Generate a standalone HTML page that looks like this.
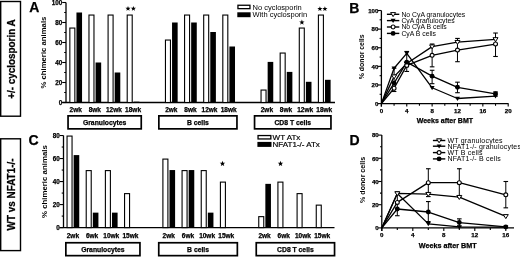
<!DOCTYPE html>
<html><head><meta charset="utf-8"><style>
html,body{margin:0;padding:0;background:#fff;width:520px;height:257px;overflow:hidden;}
svg{display:block;will-change:transform;}
text{font-family:"Liberation Sans", sans-serif;fill:#000;}
</style></head><body>
<svg width="520" height="257" viewBox="0 0 520 257">
<rect x="0" y="0" width="520" height="257" fill="#fff"/>
<rect x="0.70" y="1.50" width="19.80" height="114.70" fill="none" stroke="#000" stroke-width="1.4"/>
<text transform="translate(14.9 59.05) rotate(-90) scale(0.925 1)" x="0" y="0" font-size="10.7" font-weight="bold" text-anchor="middle" stroke="#000" stroke-width="0.25">+/- cyclosporin A</text>
<rect x="0.70" y="138.80" width="19.80" height="111.80" fill="none" stroke="#000" stroke-width="1.4"/>
<text transform="translate(14.9 194.45) rotate(-90) scale(0.918 1)" x="0" y="0" font-size="10.8" font-weight="bold" text-anchor="middle" stroke="#000" stroke-width="0.25">WT vs NFAT1-/-</text>
<text x="29.20" y="12.30" font-size="14.0" font-weight="bold" stroke="#000" stroke-width="0.25" text-anchor="start">A</text>
<text x="28.60" y="144.60" font-size="14.0" font-weight="bold" stroke="#000" stroke-width="0.25" text-anchor="start">C</text>
<text x="349.30" y="12.70" font-size="14.0" font-weight="bold" stroke="#000" stroke-width="0.25" text-anchor="start">B</text>
<text x="349.50" y="144.50" font-size="14.0" font-weight="bold" stroke="#000" stroke-width="0.25" text-anchor="start">D</text>
<g stroke="#000" fill="#000">
<line x1="66.00" y1="2.50" x2="66.00" y2="102.50" stroke-width="1.3"/>
<line x1="62.20" y1="102.50" x2="66.00" y2="102.50" stroke-width="1.1"/>
<text x="62.30" y="104.80" font-size="6.3" font-weight="bold" stroke="#000" stroke-width="0.25" text-anchor="end">0</text>
<line x1="64.20" y1="92.50" x2="66.00" y2="92.50" stroke-width="1.1"/>
<line x1="62.20" y1="82.50" x2="66.00" y2="82.50" stroke-width="1.1"/>
<text x="62.30" y="84.80" font-size="6.3" font-weight="bold" stroke="#000" stroke-width="0.25" text-anchor="end">20</text>
<line x1="64.20" y1="72.50" x2="66.00" y2="72.50" stroke-width="1.1"/>
<line x1="62.20" y1="62.50" x2="66.00" y2="62.50" stroke-width="1.1"/>
<text x="62.30" y="64.80" font-size="6.3" font-weight="bold" stroke="#000" stroke-width="0.25" text-anchor="end">40</text>
<line x1="64.20" y1="52.50" x2="66.00" y2="52.50" stroke-width="1.1"/>
<line x1="62.20" y1="42.50" x2="66.00" y2="42.50" stroke-width="1.1"/>
<text x="62.30" y="44.80" font-size="6.3" font-weight="bold" stroke="#000" stroke-width="0.25" text-anchor="end">60</text>
<line x1="64.20" y1="32.50" x2="66.00" y2="32.50" stroke-width="1.1"/>
<line x1="62.20" y1="22.50" x2="66.00" y2="22.50" stroke-width="1.1"/>
<text x="62.30" y="24.80" font-size="6.3" font-weight="bold" stroke="#000" stroke-width="0.25" text-anchor="end">80</text>
<line x1="64.20" y1="12.50" x2="66.00" y2="12.50" stroke-width="1.1"/>
<line x1="62.20" y1="2.50" x2="66.00" y2="2.50" stroke-width="1.1"/>
<text x="62.30" y="4.80" font-size="6.3" font-weight="bold" stroke="#000" stroke-width="0.25" text-anchor="end">100</text>
<line x1="62.20" y1="102.50" x2="335.00" y2="102.50" stroke-width="1.3"/>
<rect x="76.45" y="12.50" width="5.60" height="90.00" fill="#000" stroke="none"/>
<rect x="69.85" y="28.05" width="5.00" height="74.45" fill="#fff" stroke="#000" stroke-width="1.1"/>
<rect x="95.57" y="62.50" width="5.60" height="40.00" fill="#000" stroke="none"/>
<rect x="88.97" y="15.05" width="5.00" height="87.45" fill="#fff" stroke="#000" stroke-width="1.1"/>
<rect x="114.69" y="72.50" width="5.60" height="30.00" fill="#000" stroke="none"/>
<rect x="108.09" y="15.05" width="5.00" height="87.45" fill="#fff" stroke="#000" stroke-width="1.1"/>
<rect x="133.81" y="101.70" width="5.60" height="0.80" fill="#000" stroke="none"/>
<rect x="127.21" y="15.05" width="5.00" height="87.45" fill="#fff" stroke="#000" stroke-width="1.1"/>
<rect x="172.05" y="22.50" width="5.60" height="80.00" fill="#000" stroke="none"/>
<rect x="165.45" y="40.05" width="5.00" height="62.45" fill="#fff" stroke="#000" stroke-width="1.1"/>
<rect x="191.17" y="22.50" width="5.60" height="80.00" fill="#000" stroke="none"/>
<rect x="184.57" y="15.05" width="5.00" height="87.45" fill="#fff" stroke="#000" stroke-width="1.1"/>
<rect x="210.29" y="32.00" width="5.60" height="70.50" fill="#000" stroke="none"/>
<rect x="203.69" y="15.05" width="5.00" height="87.45" fill="#fff" stroke="#000" stroke-width="1.1"/>
<rect x="229.41" y="46.50" width="5.60" height="56.00" fill="#000" stroke="none"/>
<rect x="222.81" y="15.05" width="5.00" height="87.45" fill="#fff" stroke="#000" stroke-width="1.1"/>
<rect x="267.65" y="61.90" width="5.60" height="40.60" fill="#000" stroke="none"/>
<rect x="261.05" y="90.05" width="5.00" height="12.45" fill="#fff" stroke="#000" stroke-width="1.1"/>
<rect x="286.77" y="71.90" width="5.60" height="30.60" fill="#000" stroke="none"/>
<rect x="280.17" y="53.05" width="5.00" height="49.45" fill="#fff" stroke="#000" stroke-width="1.1"/>
<rect x="305.89" y="81.80" width="5.60" height="20.70" fill="#000" stroke="none"/>
<rect x="299.29" y="28.05" width="5.00" height="74.45" fill="#fff" stroke="#000" stroke-width="1.1"/>
<rect x="325.01" y="79.80" width="5.60" height="22.70" fill="#000" stroke="none"/>
<rect x="318.41" y="15.05" width="5.00" height="87.45" fill="#fff" stroke="#000" stroke-width="1.1"/>
<text x="75.70" y="111.80" font-size="6.5" font-weight="bold" stroke="#000" stroke-width="0.25" text-anchor="middle">2wk</text>
<text x="94.82" y="111.80" font-size="6.5" font-weight="bold" stroke="#000" stroke-width="0.25" text-anchor="middle">8wk</text>
<text x="113.94" y="111.80" font-size="6.5" font-weight="bold" stroke="#000" stroke-width="0.25" text-anchor="middle">12wk</text>
<text x="133.06" y="111.80" font-size="6.5" font-weight="bold" stroke="#000" stroke-width="0.25" text-anchor="middle">18wk</text>
<text x="171.30" y="111.80" font-size="6.5" font-weight="bold" stroke="#000" stroke-width="0.25" text-anchor="middle">2wk</text>
<text x="190.42" y="111.80" font-size="6.5" font-weight="bold" stroke="#000" stroke-width="0.25" text-anchor="middle">8wk</text>
<text x="209.54" y="111.80" font-size="6.5" font-weight="bold" stroke="#000" stroke-width="0.25" text-anchor="middle">12wk</text>
<text x="228.66" y="111.80" font-size="6.5" font-weight="bold" stroke="#000" stroke-width="0.25" text-anchor="middle">18wk</text>
<text x="266.90" y="111.80" font-size="6.5" font-weight="bold" stroke="#000" stroke-width="0.25" text-anchor="middle">2wk</text>
<text x="286.02" y="111.80" font-size="6.5" font-weight="bold" stroke="#000" stroke-width="0.25" text-anchor="middle">8wk</text>
<text x="305.14" y="111.80" font-size="6.5" font-weight="bold" stroke="#000" stroke-width="0.25" text-anchor="middle">12wk</text>
<text x="324.26" y="111.80" font-size="6.5" font-weight="bold" stroke="#000" stroke-width="0.25" text-anchor="middle">18wk</text>
<rect x="68.05" y="115.85" width="73.20" height="13.00" fill="none" stroke="#000" stroke-width="1.7"/>
<text x="104.65" y="124.90" font-size="6.8" font-weight="bold" stroke="#000" stroke-width="0.25" text-anchor="middle">Granulocytes</text>
<rect x="158.85" y="115.85" width="78.10" height="13.00" fill="none" stroke="#000" stroke-width="1.7"/>
<text x="197.90" y="124.90" font-size="6.8" font-weight="bold" stroke="#000" stroke-width="0.25" text-anchor="middle">B cells</text>
<rect x="254.55" y="115.85" width="76.40" height="13.00" fill="none" stroke="#000" stroke-width="1.7"/>
<text x="292.75" y="124.90" font-size="6.8" font-weight="bold" stroke="#000" stroke-width="0.25" text-anchor="middle">CD8 T cells</text>
<text x="46.20" y="52.60" font-size="7.75" font-weight="bold" stroke="none" text-anchor="middle" transform="rotate(-90 46.20 52.60)">% chimeric animals</text>
<rect x="237.95" y="5.25" width="12.00" height="3.40" fill="#fff" stroke="#000" stroke-width="1.3"/>
<rect x="237.30" y="12.30" width="13.30" height="4.90" fill="#000" stroke="none"/>
<text x="252.60" y="9.60" font-size="7.5" stroke="none" text-anchor="start">No cyclosporin</text>
<text x="252.60" y="17.00" font-size="7.5" stroke="none" text-anchor="start">With cyclosporin</text>
<polygon points="128.00,5.90 128.67,7.68 130.57,7.77 129.08,8.95 129.59,10.78 128.00,9.73 126.41,10.78 126.92,8.95 125.43,7.77 127.33,7.68" fill="#000" stroke="none"/>
<polygon points="133.40,5.90 134.07,7.68 135.97,7.77 134.48,8.95 134.99,10.78 133.40,9.73 131.81,10.78 132.32,8.95 130.83,7.77 132.73,7.68" fill="#000" stroke="none"/>
<polygon points="301.90,19.60 302.59,21.45 304.56,21.53 303.02,22.76 303.55,24.67 301.90,23.58 300.25,24.67 300.78,22.76 299.24,21.53 301.21,21.45" fill="#000" stroke="none"/>
<polygon points="319.90,6.20 320.57,7.98 322.47,8.07 320.98,9.25 321.49,11.08 319.90,10.03 318.31,11.08 318.82,9.25 317.33,8.07 319.23,7.98" fill="#000" stroke="none"/>
<polygon points="324.90,6.20 325.57,7.98 327.47,8.07 325.98,9.25 326.49,11.08 324.90,10.03 323.31,11.08 323.82,9.25 322.33,8.07 324.23,7.98" fill="#000" stroke="none"/>
<line x1="63.50" y1="135.52" x2="63.50" y2="227.60" stroke-width="1.3"/>
<line x1="59.70" y1="227.60" x2="63.50" y2="227.60" stroke-width="1.1"/>
<text x="59.80" y="229.90" font-size="6.3" font-weight="bold" stroke="#000" stroke-width="0.25" text-anchor="end">0</text>
<line x1="61.70" y1="216.09" x2="63.50" y2="216.09" stroke-width="1.1"/>
<line x1="59.70" y1="204.58" x2="63.50" y2="204.58" stroke-width="1.1"/>
<text x="59.80" y="206.88" font-size="6.3" font-weight="bold" stroke="#000" stroke-width="0.25" text-anchor="end">20</text>
<line x1="61.70" y1="193.07" x2="63.50" y2="193.07" stroke-width="1.1"/>
<line x1="59.70" y1="181.56" x2="63.50" y2="181.56" stroke-width="1.1"/>
<text x="59.80" y="183.86" font-size="6.3" font-weight="bold" stroke="#000" stroke-width="0.25" text-anchor="end">40</text>
<line x1="61.70" y1="170.05" x2="63.50" y2="170.05" stroke-width="1.1"/>
<line x1="59.70" y1="158.54" x2="63.50" y2="158.54" stroke-width="1.1"/>
<text x="59.80" y="160.84" font-size="6.3" font-weight="bold" stroke="#000" stroke-width="0.25" text-anchor="end">60</text>
<line x1="61.70" y1="147.03" x2="63.50" y2="147.03" stroke-width="1.1"/>
<line x1="59.70" y1="135.52" x2="63.50" y2="135.52" stroke-width="1.1"/>
<text x="59.80" y="137.82" font-size="6.3" font-weight="bold" stroke="#000" stroke-width="0.25" text-anchor="end">80</text>
<line x1="59.70" y1="227.60" x2="334.50" y2="227.60" stroke-width="1.3"/>
<rect x="73.65" y="155.09" width="5.60" height="72.51" fill="#000" stroke="none"/>
<rect x="67.05" y="136.07" width="5.00" height="91.53" fill="#fff" stroke="#000" stroke-width="1.1"/>
<rect x="92.82" y="212.64" width="5.60" height="14.96" fill="#000" stroke="none"/>
<rect x="86.22" y="170.60" width="5.00" height="57.00" fill="#fff" stroke="#000" stroke-width="1.1"/>
<rect x="111.99" y="212.64" width="5.60" height="14.96" fill="#000" stroke="none"/>
<rect x="105.39" y="170.60" width="5.00" height="57.00" fill="#fff" stroke="#000" stroke-width="1.1"/>
<rect x="124.56" y="193.62" width="5.00" height="33.98" fill="#fff" stroke="#000" stroke-width="1.1"/>
<rect x="169.50" y="170.05" width="5.60" height="57.55" fill="#000" stroke="none"/>
<rect x="162.90" y="159.09" width="5.00" height="68.51" fill="#fff" stroke="#000" stroke-width="1.1"/>
<rect x="188.67" y="170.05" width="5.60" height="57.55" fill="#000" stroke="none"/>
<rect x="182.07" y="170.60" width="5.00" height="57.00" fill="#fff" stroke="#000" stroke-width="1.1"/>
<rect x="207.84" y="212.64" width="5.60" height="14.96" fill="#000" stroke="none"/>
<rect x="201.24" y="170.60" width="5.00" height="57.00" fill="#fff" stroke="#000" stroke-width="1.1"/>
<rect x="220.41" y="182.11" width="5.00" height="45.49" fill="#fff" stroke="#000" stroke-width="1.1"/>
<rect x="265.35" y="183.86" width="5.60" height="43.74" fill="#000" stroke="none"/>
<rect x="258.75" y="216.64" width="5.00" height="10.96" fill="#fff" stroke="#000" stroke-width="1.1"/>
<rect x="277.92" y="182.11" width="5.00" height="45.49" fill="#fff" stroke="#000" stroke-width="1.1"/>
<rect x="297.09" y="193.62" width="5.00" height="33.98" fill="#fff" stroke="#000" stroke-width="1.1"/>
<rect x="316.26" y="205.13" width="5.00" height="22.47" fill="#fff" stroke="#000" stroke-width="1.1"/>
<text x="72.90" y="237.50" font-size="6.5" font-weight="bold" stroke="#000" stroke-width="0.25" text-anchor="middle">2wk</text>
<text x="92.07" y="237.50" font-size="6.5" font-weight="bold" stroke="#000" stroke-width="0.25" text-anchor="middle">6wk</text>
<text x="111.24" y="237.50" font-size="6.5" font-weight="bold" stroke="#000" stroke-width="0.25" text-anchor="middle">10wk</text>
<text x="130.41" y="237.50" font-size="6.5" font-weight="bold" stroke="#000" stroke-width="0.25" text-anchor="middle">15wk</text>
<text x="168.75" y="237.50" font-size="6.5" font-weight="bold" stroke="#000" stroke-width="0.25" text-anchor="middle">2wk</text>
<text x="187.92" y="237.50" font-size="6.5" font-weight="bold" stroke="#000" stroke-width="0.25" text-anchor="middle">6wk</text>
<text x="207.09" y="237.50" font-size="6.5" font-weight="bold" stroke="#000" stroke-width="0.25" text-anchor="middle">10wk</text>
<text x="226.26" y="237.50" font-size="6.5" font-weight="bold" stroke="#000" stroke-width="0.25" text-anchor="middle">15wk</text>
<text x="264.60" y="237.50" font-size="6.5" font-weight="bold" stroke="#000" stroke-width="0.25" text-anchor="middle">2wk</text>
<text x="283.77" y="237.50" font-size="6.5" font-weight="bold" stroke="#000" stroke-width="0.25" text-anchor="middle">6wk</text>
<text x="302.94" y="237.50" font-size="6.5" font-weight="bold" stroke="#000" stroke-width="0.25" text-anchor="middle">10wk</text>
<text x="322.11" y="237.50" font-size="6.5" font-weight="bold" stroke="#000" stroke-width="0.25" text-anchor="middle">15wk</text>
<rect x="65.85" y="242.75" width="74.10" height="12.90" fill="none" stroke="#000" stroke-width="1.7"/>
<text x="102.90" y="251.90" font-size="6.8" font-weight="bold" stroke="#000" stroke-width="0.25" text-anchor="middle">Granulocytes</text>
<rect x="158.75" y="242.75" width="78.60" height="12.90" fill="none" stroke="#000" stroke-width="1.7"/>
<text x="198.05" y="251.90" font-size="6.8" font-weight="bold" stroke="#000" stroke-width="0.25" text-anchor="middle">B cells</text>
<rect x="256.25" y="242.75" width="78.30" height="12.90" fill="none" stroke="#000" stroke-width="1.7"/>
<text x="295.40" y="251.90" font-size="6.8" font-weight="bold" stroke="#000" stroke-width="0.25" text-anchor="middle">CD8 T cells</text>
<text x="46.90" y="181.60" font-size="7.85" font-weight="bold" stroke="none" text-anchor="middle" transform="rotate(-90 46.90 181.60)">% chimeric animals</text>
<rect x="258.05" y="135.55" width="12.80" height="3.40" fill="#fff" stroke="#000" stroke-width="1.3"/>
<rect x="257.40" y="141.90" width="14.10" height="5.00" fill="#000" stroke="none"/>
<text x="272.60" y="139.80" font-size="8.0" stroke="#000" stroke-width="0.2" text-anchor="start">WT ATx</text>
<text x="272.60" y="147.30" font-size="8.0" stroke="#000" stroke-width="0.2" text-anchor="start">NFAT1-/- ATx</text>
<polygon points="222.50,160.80 223.22,162.71 225.26,162.80 223.66,164.08 224.20,166.05 222.50,164.92 220.80,166.05 221.34,164.08 219.74,162.80 221.78,162.71" fill="#000" stroke="none"/>
<polygon points="280.50,160.80 281.22,162.71 283.26,162.80 281.66,164.08 282.20,166.05 280.50,164.92 278.80,166.05 279.34,164.08 277.74,162.80 279.78,162.71" fill="#000" stroke="none"/>
</g>
<g stroke="#000" fill="#000">
<line x1="381.40" y1="10.50" x2="381.40" y2="106.60" stroke-width="1.3"/>
<line x1="377.80" y1="103.60" x2="381.40" y2="103.60" stroke-width="1.1"/>
<text x="378.30" y="105.80" font-size="6.1" font-weight="bold" stroke="#000" stroke-width="0.25" text-anchor="end">0</text>
<line x1="379.60" y1="94.29" x2="381.40" y2="94.29" stroke-width="1.1"/>
<line x1="377.80" y1="84.98" x2="381.40" y2="84.98" stroke-width="1.1"/>
<text x="378.30" y="87.18" font-size="6.1" font-weight="bold" stroke="#000" stroke-width="0.25" text-anchor="end">20</text>
<line x1="379.60" y1="75.67" x2="381.40" y2="75.67" stroke-width="1.1"/>
<line x1="377.80" y1="66.36" x2="381.40" y2="66.36" stroke-width="1.1"/>
<text x="378.30" y="68.56" font-size="6.1" font-weight="bold" stroke="#000" stroke-width="0.25" text-anchor="end">40</text>
<line x1="379.60" y1="57.05" x2="381.40" y2="57.05" stroke-width="1.1"/>
<line x1="377.80" y1="47.74" x2="381.40" y2="47.74" stroke-width="1.1"/>
<text x="378.30" y="49.94" font-size="6.1" font-weight="bold" stroke="#000" stroke-width="0.25" text-anchor="end">60</text>
<line x1="379.60" y1="38.43" x2="381.40" y2="38.43" stroke-width="1.1"/>
<line x1="377.80" y1="29.12" x2="381.40" y2="29.12" stroke-width="1.1"/>
<text x="378.30" y="31.32" font-size="6.1" font-weight="bold" stroke="#000" stroke-width="0.25" text-anchor="end">80</text>
<line x1="379.60" y1="19.81" x2="381.40" y2="19.81" stroke-width="1.1"/>
<line x1="377.80" y1="10.50" x2="381.40" y2="10.50" stroke-width="1.1"/>
<text x="378.30" y="12.70" font-size="6.1" font-weight="bold" stroke="#000" stroke-width="0.25" text-anchor="end">100</text>
<line x1="381.40" y1="103.60" x2="508.50" y2="103.60" stroke-width="1.3"/>
<line x1="381.40" y1="103.60" x2="381.40" y2="106.60" stroke-width="1.1"/>
<text x="381.40" y="113.00" font-size="6.2" font-weight="bold" stroke="#000" stroke-width="0.25" text-anchor="middle">0</text>
<line x1="394.08" y1="103.60" x2="394.08" y2="105.80" stroke-width="1.1"/>
<line x1="406.76" y1="103.60" x2="406.76" y2="106.60" stroke-width="1.1"/>
<text x="406.76" y="113.00" font-size="6.2" font-weight="bold" stroke="#000" stroke-width="0.25" text-anchor="middle">4</text>
<line x1="419.44" y1="103.60" x2="419.44" y2="105.80" stroke-width="1.1"/>
<line x1="432.12" y1="103.60" x2="432.12" y2="106.60" stroke-width="1.1"/>
<text x="432.12" y="113.00" font-size="6.2" font-weight="bold" stroke="#000" stroke-width="0.25" text-anchor="middle">8</text>
<line x1="444.80" y1="103.60" x2="444.80" y2="105.80" stroke-width="1.1"/>
<line x1="457.48" y1="103.60" x2="457.48" y2="106.60" stroke-width="1.1"/>
<text x="457.48" y="113.00" font-size="6.2" font-weight="bold" stroke="#000" stroke-width="0.25" text-anchor="middle">12</text>
<line x1="470.16" y1="103.60" x2="470.16" y2="105.80" stroke-width="1.1"/>
<line x1="482.84" y1="103.60" x2="482.84" y2="106.60" stroke-width="1.1"/>
<text x="482.84" y="113.00" font-size="6.2" font-weight="bold" stroke="#000" stroke-width="0.25" text-anchor="middle">16</text>
<line x1="495.52" y1="103.60" x2="495.52" y2="105.80" stroke-width="1.1"/>
<line x1="508.20" y1="103.60" x2="508.20" y2="106.60" stroke-width="1.1"/>
<text x="508.20" y="113.00" font-size="6.2" font-weight="bold" stroke="#000" stroke-width="0.25" text-anchor="middle">20</text>
<text x="444.90" y="122.80" font-size="7.0" font-weight="bold" stroke="#000" stroke-width="0.25" text-anchor="middle">Weeks after BMT</text>
<text x="363.60" y="56.80" font-size="6.9" font-weight="bold" stroke="none" text-anchor="middle" transform="rotate(-90 363.60 56.80)">% donor cells</text>
<line x1="394.08" y1="91.50" x2="394.08" y2="68.22" stroke-width="1.0"/>
<line x1="391.78" y1="91.50" x2="396.38" y2="91.50" stroke-width="1.1"/>
<line x1="391.78" y1="68.22" x2="396.38" y2="68.22" stroke-width="1.1"/>
<line x1="406.76" y1="71.48" x2="406.76" y2="51.46" stroke-width="1.0"/>
<line x1="404.46" y1="71.48" x2="409.06" y2="71.48" stroke-width="1.1"/>
<line x1="404.46" y1="51.46" x2="409.06" y2="51.46" stroke-width="1.1"/>
<line x1="432.12" y1="66.83" x2="432.12" y2="44.02" stroke-width="1.0"/>
<line x1="429.82" y1="66.83" x2="434.42" y2="66.83" stroke-width="1.1"/>
<line x1="429.82" y1="44.02" x2="434.42" y2="44.02" stroke-width="1.1"/>
<line x1="457.48" y1="61.70" x2="457.48" y2="38.43" stroke-width="1.0"/>
<line x1="455.18" y1="61.70" x2="459.78" y2="61.70" stroke-width="1.1"/>
<line x1="455.18" y1="38.43" x2="459.78" y2="38.43" stroke-width="1.1"/>
<line x1="495.52" y1="56.49" x2="495.52" y2="33.03" stroke-width="1.0"/>
<line x1="493.22" y1="56.49" x2="497.82" y2="56.49" stroke-width="1.1"/>
<line x1="493.22" y1="33.03" x2="497.82" y2="33.03" stroke-width="1.1"/>
<line x1="432.12" y1="83.68" x2="432.12" y2="70.27" stroke-width="1.0"/>
<line x1="429.82" y1="83.68" x2="434.42" y2="83.68" stroke-width="1.1"/>
<line x1="429.82" y1="70.27" x2="434.42" y2="70.27" stroke-width="1.1"/>
<line x1="457.48" y1="92.71" x2="457.48" y2="82.19" stroke-width="1.0"/>
<line x1="455.18" y1="92.71" x2="459.78" y2="92.71" stroke-width="1.1"/>
<line x1="455.18" y1="82.19" x2="459.78" y2="82.19" stroke-width="1.1"/>
<line x1="495.52" y1="96.15" x2="495.52" y2="91.96" stroke-width="1.0"/>
<line x1="493.22" y1="96.15" x2="497.82" y2="96.15" stroke-width="1.1"/>
<line x1="493.22" y1="91.96" x2="497.82" y2="91.96" stroke-width="1.1"/>
<path d="M381.40,103.60 L394.08,76.60 L406.76,63.57 L432.12,46.62 L457.48,42.15 L495.52,39.36" fill="none" stroke="#000" stroke-width="1.3" stroke-linejoin="round"/>
<path d="M381.40,103.60 L394.08,68.22 L406.76,53.33 L432.12,87.77 L457.48,98.48 L495.52,96.15" fill="none" stroke="#000" stroke-width="1.3" stroke-linejoin="round"/>
<path d="M381.40,103.60 L394.08,88.24 L406.76,65.43 L432.12,55.37 L457.48,50.07 L495.52,44.02" fill="none" stroke="#000" stroke-width="1.3" stroke-linejoin="round"/>
<path d="M381.40,103.60 L394.08,83.12 L406.76,62.17 L432.12,76.14 L457.48,87.31 L495.52,93.82" fill="none" stroke="#000" stroke-width="1.3" stroke-linejoin="round"/>
<path d="M391.58,74.90 L396.58,74.90 L394.08,78.90 Z" fill="#fff" stroke="#000" stroke-width="1.0" stroke-linejoin="round"/>
<path d="M404.26,61.87 L409.26,61.87 L406.76,65.87 Z" fill="#fff" stroke="#000" stroke-width="1.0" stroke-linejoin="round"/>
<path d="M429.62,44.92 L434.62,44.92 L432.12,48.92 Z" fill="#fff" stroke="#000" stroke-width="1.0" stroke-linejoin="round"/>
<path d="M454.98,40.45 L459.98,40.45 L457.48,44.45 Z" fill="#fff" stroke="#000" stroke-width="1.0" stroke-linejoin="round"/>
<path d="M493.02,37.66 L498.02,37.66 L495.52,41.66 Z" fill="#fff" stroke="#000" stroke-width="1.0" stroke-linejoin="round"/>
<path d="M391.58,66.42 L396.58,66.42 L394.08,70.62 Z" fill="#000" stroke="none"/>
<path d="M404.26,51.53 L409.26,51.53 L406.76,55.73 Z" fill="#000" stroke="none"/>
<path d="M429.62,85.97 L434.62,85.97 L432.12,90.17 Z" fill="#000" stroke="none"/>
<path d="M454.98,96.68 L459.98,96.68 L457.48,100.88 Z" fill="#000" stroke="none"/>
<path d="M493.02,94.35 L498.02,94.35 L495.52,98.55 Z" fill="#000" stroke="none"/>
<circle cx="394.08" cy="88.24" r="1.95" fill="#fff" stroke="#000" stroke-width="1.1"/>
<circle cx="406.76" cy="65.43" r="1.95" fill="#fff" stroke="#000" stroke-width="1.1"/>
<circle cx="432.12" cy="55.37" r="1.95" fill="#fff" stroke="#000" stroke-width="1.1"/>
<circle cx="457.48" cy="50.07" r="1.95" fill="#fff" stroke="#000" stroke-width="1.1"/>
<circle cx="495.52" cy="44.02" r="1.95" fill="#fff" stroke="#000" stroke-width="1.1"/>
<circle cx="394.08" cy="83.12" r="2.45" fill="#000" stroke="none"/>
<circle cx="406.76" cy="62.17" r="2.45" fill="#000" stroke="none"/>
<circle cx="432.12" cy="76.14" r="2.45" fill="#000" stroke="none"/>
<circle cx="457.48" cy="87.31" r="2.45" fill="#000" stroke="none"/>
<circle cx="495.52" cy="93.82" r="2.45" fill="#000" stroke="none"/>
<line x1="386.90" y1="14.30" x2="399.30" y2="14.30" stroke-width="1.4"/>
<path d="M390.60,12.60 L395.60,12.60 L393.10,16.60 Z" fill="#fff" stroke="#000" stroke-width="1.0" stroke-linejoin="round"/>
<text x="401.40" y="16.60" font-size="6.85" stroke="none" text-anchor="start">No CyA granulocytes</text>
<line x1="386.90" y1="20.60" x2="399.30" y2="20.60" stroke-width="1.4"/>
<path d="M390.60,18.80 L395.60,18.80 L393.10,23.00 Z" fill="#000" stroke="none"/>
<text x="401.40" y="22.90" font-size="6.85" stroke="none" text-anchor="start">CyA granulocytes</text>
<line x1="386.90" y1="27.00" x2="399.30" y2="27.00" stroke-width="1.4"/>
<circle cx="393.10" cy="27.00" r="1.95" fill="#fff" stroke="#000" stroke-width="1.1"/>
<text x="401.40" y="29.30" font-size="6.85" stroke="none" text-anchor="start">No CyA B cells</text>
<line x1="386.90" y1="33.40" x2="399.30" y2="33.40" stroke-width="1.4"/>
<circle cx="393.10" cy="33.40" r="2.45" fill="#000" stroke="none"/>
<text x="401.40" y="35.70" font-size="6.85" stroke="none" text-anchor="start">CyA B cells</text>
</g>
<g stroke="#000" fill="#000">
<line x1="381.80" y1="135.10" x2="381.80" y2="230.90" stroke-width="1.3"/>
<line x1="378.20" y1="227.90" x2="381.80" y2="227.90" stroke-width="1.1"/>
<text x="378.70" y="230.10" font-size="6.1" font-weight="bold" stroke="#000" stroke-width="0.25" text-anchor="end">0</text>
<line x1="380.00" y1="216.30" x2="381.80" y2="216.30" stroke-width="1.1"/>
<line x1="378.20" y1="204.70" x2="381.80" y2="204.70" stroke-width="1.1"/>
<text x="378.70" y="206.90" font-size="6.1" font-weight="bold" stroke="#000" stroke-width="0.25" text-anchor="end">20</text>
<line x1="380.00" y1="193.10" x2="381.80" y2="193.10" stroke-width="1.1"/>
<line x1="378.20" y1="181.50" x2="381.80" y2="181.50" stroke-width="1.1"/>
<text x="378.70" y="183.70" font-size="6.1" font-weight="bold" stroke="#000" stroke-width="0.25" text-anchor="end">40</text>
<line x1="380.00" y1="169.90" x2="381.80" y2="169.90" stroke-width="1.1"/>
<line x1="378.20" y1="158.30" x2="381.80" y2="158.30" stroke-width="1.1"/>
<text x="378.70" y="160.50" font-size="6.1" font-weight="bold" stroke="#000" stroke-width="0.25" text-anchor="end">60</text>
<line x1="380.00" y1="146.70" x2="381.80" y2="146.70" stroke-width="1.1"/>
<line x1="378.20" y1="135.10" x2="381.80" y2="135.10" stroke-width="1.1"/>
<text x="378.70" y="137.30" font-size="6.1" font-weight="bold" stroke="#000" stroke-width="0.25" text-anchor="end">80</text>
<line x1="381.80" y1="227.90" x2="514.00" y2="227.90" stroke-width="1.3"/>
<line x1="381.80" y1="227.90" x2="381.80" y2="230.90" stroke-width="1.1"/>
<text x="381.80" y="237.30" font-size="6.2" font-weight="bold" stroke="#000" stroke-width="0.25" text-anchor="middle">0</text>
<line x1="397.30" y1="227.90" x2="397.30" y2="230.10" stroke-width="1.1"/>
<line x1="412.80" y1="227.90" x2="412.80" y2="230.90" stroke-width="1.1"/>
<text x="412.80" y="237.30" font-size="6.2" font-weight="bold" stroke="#000" stroke-width="0.25" text-anchor="middle">4</text>
<line x1="428.30" y1="227.90" x2="428.30" y2="230.10" stroke-width="1.1"/>
<line x1="443.80" y1="227.90" x2="443.80" y2="230.90" stroke-width="1.1"/>
<text x="443.80" y="237.30" font-size="6.2" font-weight="bold" stroke="#000" stroke-width="0.25" text-anchor="middle">8</text>
<line x1="459.30" y1="227.90" x2="459.30" y2="230.10" stroke-width="1.1"/>
<line x1="474.80" y1="227.90" x2="474.80" y2="230.90" stroke-width="1.1"/>
<text x="474.80" y="237.30" font-size="6.2" font-weight="bold" stroke="#000" stroke-width="0.25" text-anchor="middle">12</text>
<line x1="490.30" y1="227.90" x2="490.30" y2="230.10" stroke-width="1.1"/>
<line x1="505.80" y1="227.90" x2="505.80" y2="230.90" stroke-width="1.1"/>
<text x="505.80" y="237.30" font-size="6.2" font-weight="bold" stroke="#000" stroke-width="0.25" text-anchor="middle">16</text>
<text x="447.70" y="247.60" font-size="7.2" font-weight="bold" stroke="#000" stroke-width="0.25" text-anchor="middle">Weeks after BMT</text>
<text x="365.10" y="179.90" font-size="7.1" font-weight="bold" stroke="none" text-anchor="middle" transform="rotate(-90 365.10 179.90)">% donor cells</text>
<line x1="397.30" y1="215.72" x2="397.30" y2="191.94" stroke-width="1.0"/>
<line x1="395.00" y1="215.72" x2="399.60" y2="215.72" stroke-width="1.1"/>
<line x1="395.00" y1="191.94" x2="399.60" y2="191.94" stroke-width="1.1"/>
<line x1="428.30" y1="196.58" x2="428.30" y2="168.74" stroke-width="1.0"/>
<line x1="426.00" y1="196.58" x2="430.60" y2="196.58" stroke-width="1.1"/>
<line x1="426.00" y1="168.74" x2="430.60" y2="168.74" stroke-width="1.1"/>
<line x1="459.30" y1="197.16" x2="459.30" y2="168.74" stroke-width="1.0"/>
<line x1="457.00" y1="197.16" x2="461.60" y2="197.16" stroke-width="1.1"/>
<line x1="457.00" y1="168.74" x2="461.60" y2="168.74" stroke-width="1.1"/>
<line x1="505.80" y1="207.83" x2="505.80" y2="181.50" stroke-width="1.0"/>
<line x1="503.50" y1="207.83" x2="508.10" y2="207.83" stroke-width="1.1"/>
<line x1="503.50" y1="181.50" x2="508.10" y2="181.50" stroke-width="1.1"/>
<line x1="428.30" y1="221.52" x2="428.30" y2="201.57" stroke-width="1.0"/>
<line x1="426.00" y1="221.52" x2="430.60" y2="221.52" stroke-width="1.1"/>
<line x1="426.00" y1="201.57" x2="430.60" y2="201.57" stroke-width="1.1"/>
<line x1="459.30" y1="226.16" x2="459.30" y2="218.85" stroke-width="1.0"/>
<line x1="457.00" y1="226.16" x2="461.60" y2="226.16" stroke-width="1.1"/>
<line x1="457.00" y1="218.85" x2="461.60" y2="218.85" stroke-width="1.1"/>
<path d="M381.80,227.90 L397.30,193.45 L428.30,194.14 L459.30,197.16 L505.80,216.30" fill="none" stroke="#000" stroke-width="1.3" stroke-linejoin="round"/>
<path d="M381.80,227.90 L397.30,193.45 L428.30,223.84 L459.30,226.97 L505.80,227.20" fill="none" stroke="#000" stroke-width="1.3" stroke-linejoin="round"/>
<path d="M381.80,227.90 L397.30,202.38 L428.30,182.66 L459.30,182.66 L505.80,194.84" fill="none" stroke="#000" stroke-width="1.3" stroke-linejoin="round"/>
<path d="M381.80,227.90 L397.30,208.99 L428.30,212.01 L459.30,222.56 L505.80,226.97" fill="none" stroke="#000" stroke-width="1.3" stroke-linejoin="round"/>
<circle cx="397.30" cy="208.99" r="2.45" fill="#000" stroke="none"/>
<circle cx="428.30" cy="212.01" r="2.45" fill="#000" stroke="none"/>
<circle cx="459.30" cy="222.56" r="2.45" fill="#000" stroke="none"/>
<circle cx="505.80" cy="226.97" r="2.45" fill="#000" stroke="none"/>
<circle cx="397.30" cy="202.38" r="1.95" fill="#fff" stroke="#000" stroke-width="1.1"/>
<circle cx="428.30" cy="182.66" r="1.95" fill="#fff" stroke="#000" stroke-width="1.1"/>
<circle cx="459.30" cy="182.66" r="1.95" fill="#fff" stroke="#000" stroke-width="1.1"/>
<circle cx="505.80" cy="194.84" r="1.95" fill="#fff" stroke="#000" stroke-width="1.1"/>
<path d="M394.80,191.65 L399.80,191.65 L397.30,195.85 Z" fill="#000" stroke="none"/>
<path d="M425.80,222.04 L430.80,222.04 L428.30,226.24 Z" fill="#000" stroke="none"/>
<path d="M456.80,225.17 L461.80,225.17 L459.30,229.37 Z" fill="#000" stroke="none"/>
<path d="M503.30,225.40 L508.30,225.40 L505.80,229.60 Z" fill="#000" stroke="none"/>
<path d="M394.80,191.75 L399.80,191.75 L397.30,195.75 Z" fill="#fff" stroke="#000" stroke-width="1.0" stroke-linejoin="round"/>
<path d="M425.80,192.44 L430.80,192.44 L428.30,196.44 Z" fill="#fff" stroke="#000" stroke-width="1.0" stroke-linejoin="round"/>
<path d="M456.80,195.46 L461.80,195.46 L459.30,199.46 Z" fill="#fff" stroke="#000" stroke-width="1.0" stroke-linejoin="round"/>
<path d="M503.30,214.60 L508.30,214.60 L505.80,218.60 Z" fill="#fff" stroke="#000" stroke-width="1.0" stroke-linejoin="round"/>
<line x1="432.90" y1="140.50" x2="445.30" y2="140.50" stroke-width="1.4"/>
<path d="M436.60,138.80 L441.60,138.80 L439.10,142.80 Z" fill="#fff" stroke="#000" stroke-width="1.0" stroke-linejoin="round"/>
<text x="447.40" y="142.80" font-size="7.0" stroke="none" text-anchor="start" letter-spacing="0.2">WT granulocytes</text>
<line x1="432.90" y1="146.20" x2="445.30" y2="146.20" stroke-width="1.4"/>
<path d="M436.60,144.40 L441.60,144.40 L439.10,148.60 Z" fill="#000" stroke="none"/>
<text x="447.40" y="148.50" font-size="7.0" stroke="none" text-anchor="start" letter-spacing="0.2">NFAT1-/- granulocytes</text>
<line x1="432.90" y1="152.60" x2="445.30" y2="152.60" stroke-width="1.4"/>
<circle cx="439.10" cy="152.60" r="1.95" fill="#fff" stroke="#000" stroke-width="1.1"/>
<text x="447.40" y="154.90" font-size="7.0" stroke="none" text-anchor="start" letter-spacing="0.2">WT B cells</text>
<line x1="432.90" y1="158.90" x2="445.30" y2="158.90" stroke-width="1.4"/>
<circle cx="439.10" cy="158.90" r="2.45" fill="#000" stroke="none"/>
<text x="447.40" y="161.20" font-size="7.0" stroke="none" text-anchor="start" letter-spacing="0.2">NFAT1-/- B cells</text>
</g>
</svg>
</body></html>
